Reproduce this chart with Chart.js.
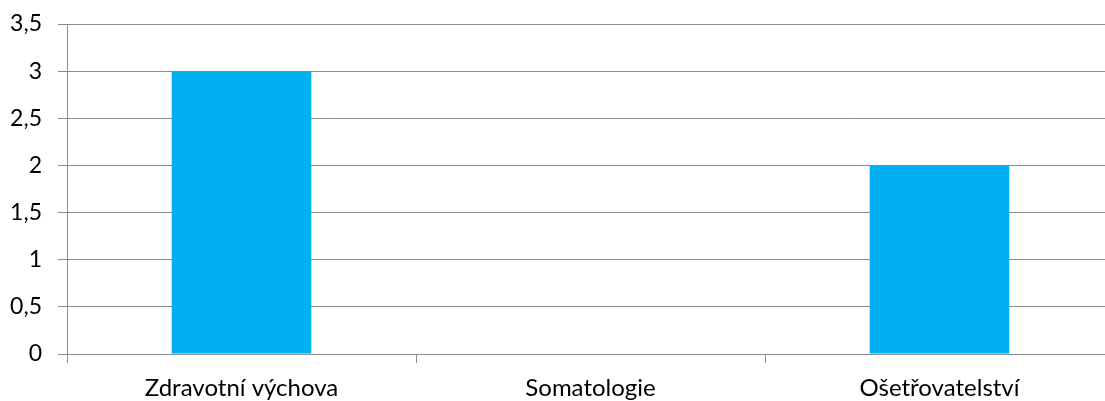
<!DOCTYPE html>
<html>
<head>
<meta charset="utf-8">
<script src="https://cdn.jsdelivr.net/npm/chart.js@4"></script>
<style>
  html, body { margin: 0; padding: 0; background: #fff; overflow: hidden; }
  #wrap { position: relative; width: 1120px; height: 401px; }
</style>
</head>
<body>
<div id="wrap"><canvas id="chart"></canvas></div>
<script>
// chart data
const categories = ['Zdravotní výchova', 'Somatologie', 'Ošetřovatelství'];
const values = [3, 0, 2];
const yMax = 3.5;
const yStep = 0.5;

const gridColor = '#8c8c8c';
const fontFamily = "Lato, 'Open Sans', sans-serif";

const ctx = document.getElementById('chart').getContext('2d');
const chart = new Chart(ctx, {
    type: 'bar',
    data: {
        labels: categories,
        datasets: [{
            data: values,
            backgroundColor: '#00b0f0',
            borderWidth: 0,
            categoryPercentage: 1,
            barPercentage: 0.4
        }]
    },
    options: {
        responsive: true,
        maintainAspectRatio: false,
        animation: false,
        layout: { padding: { top: 24, right: 6, left: 0, bottom: 0 } },
        plugins: {
            legend: { display: false },
            tooltip: { enabled: false }
        },
        scales: {
            x: {
                grid: {
                    offset: true,
                    drawOnChartArea: false,
                    color: gridColor,
                    tickLength: 9
                },
                border: { color: gridColor, width: 1 },
                ticks: {
                    color: '#000',
                    padding: 11,
                    font: { family: fontFamily, size: 24 },
                    maxRotation: 0
                },
                afterFit: (scale) => { scale.height = 47; }
            },
            y: {
                min: 0,
                max: yMax,
                grid: {
                    color: gridColor,
                    tickLength: 9
                },
                border: { color: gridColor, width: 1 },
                ticks: {
                    stepSize: yStep,
                    color: '#000',
                    padding: 16,
                    font: { family: fontFamily, size: 23 },
                    callback: (v) => String(v).replace('.', ',')
                },
                afterFit: (scale) => {
                    scale.width = 67;
                    // let the layout padding alone decide where the plot starts
                    scale.paddingTop = 0;
                    scale.paddingBottom = 0;
                }
            }
        }
    }
});
</script>
</body>
</html>
